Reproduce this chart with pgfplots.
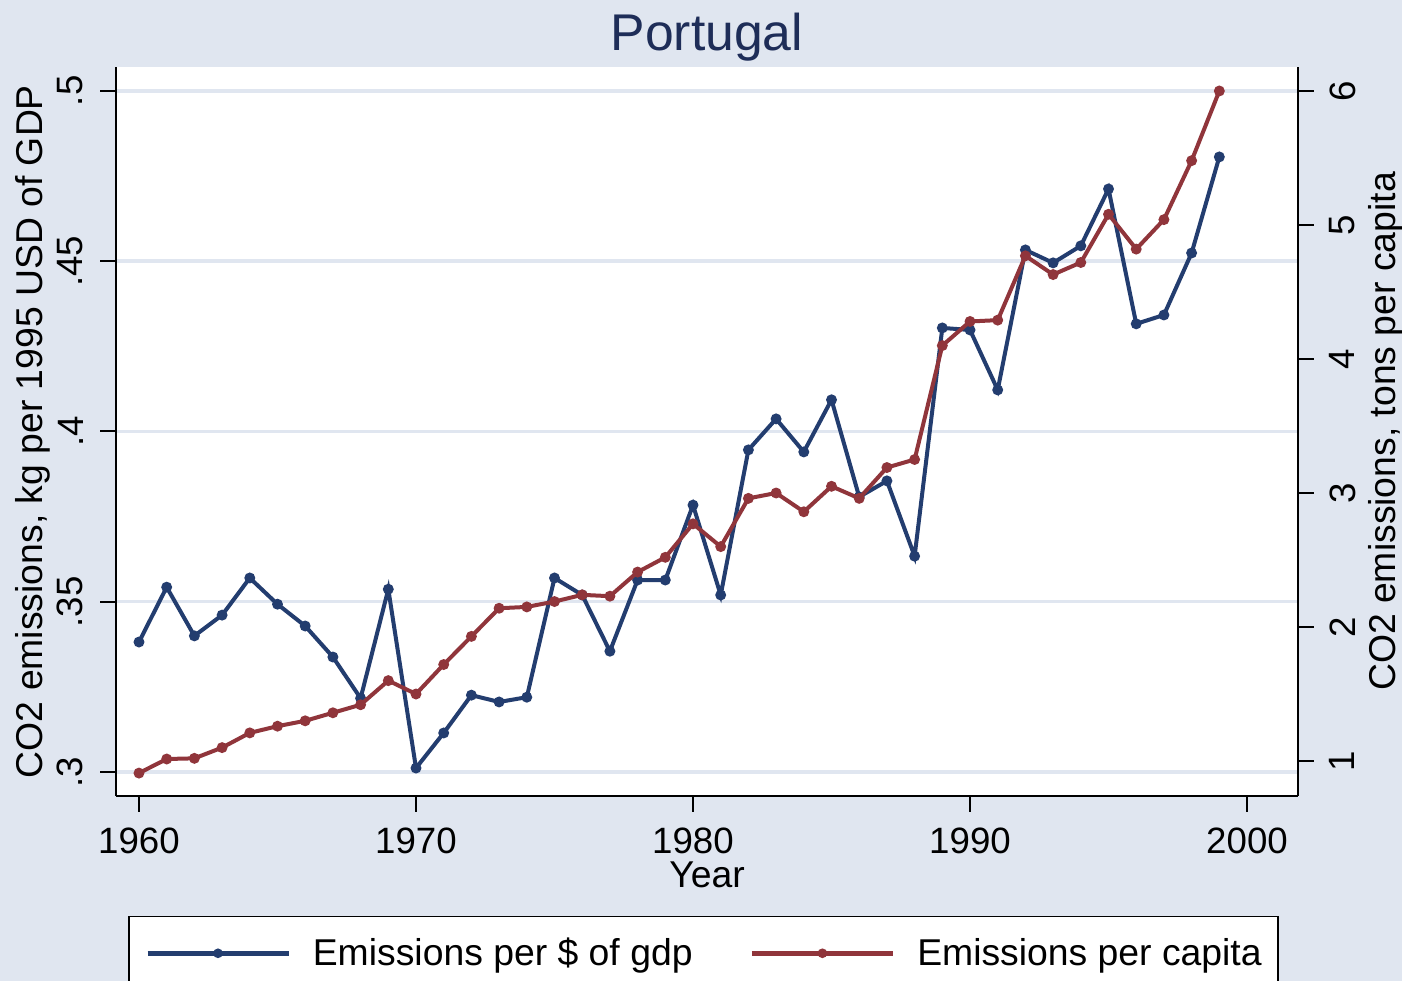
\documentclass[border=0pt]{standalone}
\usepackage{pgfplots}
\usepackage{pgfplotstable}
\pgfplotsset{compat=1.18}
\usepackage{fontspec}
\setmainfont{Liberation Sans}

\definecolor{bgcol}{RGB}{224,230,240}
\definecolor{gridcol}{RGB}{224,230,240}
\definecolor{stnavy}{RGB}{35,61,111}
\definecolor{stmaroon}{RGB}{144,53,59}
\definecolor{titlecol}{RGB}{30,45,88}

% year, kg CO2 per 1995 USD of GDP, tons CO2 per capita
\pgfplotstableread{
year gdp cap
1960 0.3382 0.91
1961 0.3543 1.015
1962 0.3400 1.02
1963 0.3461 1.10
1964 0.3570 1.21
1965 0.3493 1.26
1966 0.3429 1.30
1967 0.3338 1.36
1968 0.3217 1.42
1969 0.3537 1.60
1970 0.3012 1.50
1971 0.3115 1.72
1972 0.3226 1.93
1973 0.3206 2.14
1974 0.3220 2.15
1975 0.3570 2.19
1976 0.3520 2.24
1977 0.3355 2.23
1978 0.3564 2.41
1979 0.3564 2.52
1980 0.3784 2.77
1981 0.3520 2.60
1982 0.3946 2.96
1983 0.4037 3.00
1984 0.3940 2.86
1985 0.4093 3.05
1986 0.3808 2.96
1987 0.3855 3.19
1988 0.3634 3.25
1989 0.4304 4.10
1990 0.4298 4.28
1991 0.4122 4.29
1992 0.4533 4.77
1993 0.4495 4.63
1994 0.4545 4.72
1995 0.4712 5.08
1996 0.4316 4.82
1997 0.4342 5.04
1998 0.4524 5.48
1999 0.4806 6.00
}\co

\newcommand\lblfont{\fontsize{11.2}{13}\selectfont}

\pgfplotsset{
  common/.style={
    at={(34.8pt,55.5pt)}, anchor=south west,
    scale only axis, width=354.6pt, height=218.7pt,
    xmin=1959.17, xmax=2001.84,
    tick align=outside, major tick length=4.8pt,
    axis line style={line width=0.6pt},
    every tick/.style={black, line width=0.6pt},
    every tick label/.append style={font=\fontsize{11}{13}\selectfont, inner sep=0pt},
  },
}

\begin{document}
\begin{tikzpicture}
\fill[bgcol] (0,0) rectangle (420.6pt,294.3pt);

\begin{axis}[
  common,
  axis background/.style={fill=white},
  axis x line*=bottom, axis y line*=left,
  ymin=0.293, ymax=0.507,
  xtick={1960,1970,1980,1990,2000},
  xticklabels={1960,1970,1980,1990,2000},
  xticklabel shift=4.5pt,
  xticklabel style={anchor=north},
  ytick={0.3,0.35,0.4,0.45,0.5},
  yticklabels={.3,.35,.4,.45,.5},
  yticklabel shift=4.8pt,
  yticklabel style={rotate=90, anchor=south},
  ymajorgrids, grid style={gridcol, line width=1pt},
  xlabel={Year},
  every axis x label/.style={at={(axis description cs:0.5,-0.1262)}, anchor=base,
    font=\lblfont, inner sep=0pt},
  ylabel={CO2 emissions, kg per 1995 USD of GDP},
  every axis y label/.style={at={(axis description cs:-0.0618,0.5)}, anchor=base,
    rotate=90, font=\lblfont, inner sep=0pt},
  title={Portugal},
  every axis title/.style={at={(axis description cs:0.5,1.0233)}, anchor=base,
    font=\fontsize{15.5}{18}\selectfont, text=titlecol, inner sep=0pt},
  legend columns=2,
  legend image code/.code={%
    \draw[mark repeat=2,mark phase=2,mark size=0.7pt,line width=1.4pt]
      plot coordinates {(0pt,3.6pt) (21.15pt,3.6pt) (42.3pt,3.6pt)};},
  legend style={at={(0.497,-0.1646)}, anchor=north, draw=black, line width=0.4pt,
    fill=white, inner xsep=4.9pt, inner ysep=6.3pt,
    font=\lblfont,
    nodes={inner sep=0pt, anchor=base west},
    /tikz/every odd column/.append style={column sep=6.6pt},
    /tikz/every even column/.append style={column sep=17.1pt}},
]
\addplot[stnavy, line width=1.2pt, mark=*, mark size=1pt] table[x=year, y=gdp] {\co};
\addlegendentry{Emissions per \$ of gdp}
\addlegendimage{stmaroon, line width=1.2pt, mark=*, mark size=1pt}
\addlegendentry{Emissions per capita}
\end{axis}

\begin{axis}[
  common,
  axis x line=none, axis y line*=right,
  ymin=0.739, ymax=6.179,
  ytick={1,2,3,4,5,6},
  yticklabels={1,2,3,4,5,6},
  yticklabel shift=4.5pt,
  yticklabel style={rotate=90, anchor=north},
  ylabel={CO2 emissions, tons per capita},
  every axis y label/.style={at={(axis description cs:1.0821,0.5)}, anchor=base,
    rotate=90, font=\lblfont, inner sep=0pt},
]
\addplot[stmaroon, line width=1.2pt, mark=*, mark size=1pt] table[x=year, y=cap] {\co};
\end{axis}

\pgfresetboundingbox
\useasboundingbox (0,0) rectangle (420.6pt,294.3pt);
\end{tikzpicture}
\end{document}
